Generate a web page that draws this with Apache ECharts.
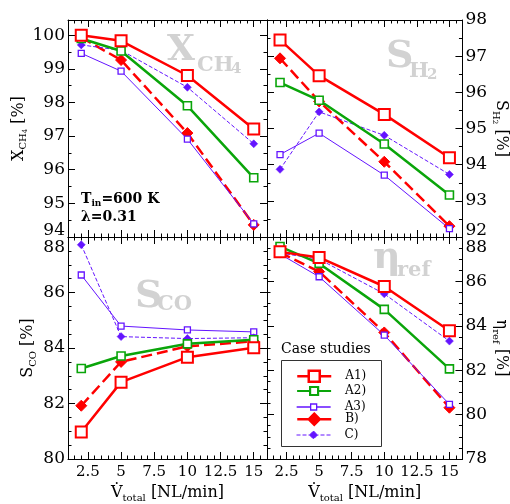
<!DOCTYPE html>
<html><head><meta charset="utf-8">
<script src="https://cdn.jsdelivr.net/npm/echarts@6/dist/echarts.min.js"></script>
<style>html,body{margin:0;padding:0;background:#fff}#c{width:510px;height:504px}</style>
</head><body><div id="c"></div>
<script>
// ---------------- data ----------------
const flows = [2, 5, 10, 15];               // V_total [NL/min]
const xTickVals = [2.5, 5, 7.5, 10, 12.5, 15];
const caseNames = ['A1)', 'A2)', 'A3)', 'B)', 'C)'];

// X_CH4 [%]
const xch4_A1 = [100.0, 99.83, 98.80, 97.21];
const xch4_A2 = [99.90, 99.53, 97.90, 95.76];
const xch4_A3 = [99.46, 98.93, 96.91, 94.39];
const xch4_B  = [99.93, 99.26, 97.09, 94.36];
const xch4_C  = [99.71, 99.55, 98.45, 96.77];
// S_H2 [%]
const sh2_A1 = [97.45, 96.46, 95.39, 94.19];
const sh2_A2 = [96.27, 95.78, 94.57, 93.16];
const sh2_A3 = [94.28, 94.87, 93.71, 92.23];
const sh2_B  = [96.94, 95.75, 94.08, 92.30];
const sh2_C  = [93.87, 95.46, 94.81, 93.73];
// S_CO [%]
const sco_A1 = [80.97, 82.77, 83.67, 84.01];
const sco_A2 = [83.26, 83.71, 84.15, 84.30];
const sco_A3 = [86.63, 84.79, 84.65, 84.58];
const sco_B  = [81.92, 83.50, 84.06, 84.24];
const sco_C  = [87.72, 84.41, 84.34, 84.37];
// eta_ref [%]
const eta_A1 = [87.33, 87.08, 85.77, 83.78];
const eta_A2 = [87.57, 86.81, 84.74, 82.06];
const eta_A3 = [87.23, 86.21, 83.58, 80.46];
const eta_B  = [87.30, 86.44, 83.70, 80.31];
const eta_C  = [87.28, 87.00, 85.44, 83.31];

// y tick labels
const yTicksXch4 = [94, 95, 96, 97, 98, 99, 100];
const yTicksSh2  = [92, 93, 94, 95, 96, 97, 98];
const yTicksSco  = [80, 82, 84, 86, 88];
const yTicksEta  = [78, 80, 82, 84, 86, 88];

// ---------------- styling ----------------
const SERIF = 'DejaVu Serif';
const RED = '#ff0000', GREEN = '#0aa50a', PURPLE = '#6414ff';

const panels = [
  {grid:{left:68, top:20, width:199, height:217}, side:'left', min:94, max:100.45, ticks:yTicksXch4,
   name:'{m|X}{s|CH}{t|4}{m| [%]}', gap:39, low:94, xLabels:false,
   sets:{A1:xch4_A1, A2:xch4_A2, A3:xch4_A3, B:xch4_B, C:xch4_C}},
  {grid:{left:267, top:20, width:198, height:217}, side:'right', min:92, max:98, ticks:yTicksSh2,
   name:'{m|S}{s|H}{t|2}{m| [%]}', gap:27, low:92, xLabels:false,
   sets:{A1:sh2_A1, A2:sh2_A2, A3:sh2_A3, B:sh2_B, C:sh2_C}},
  {grid:{left:68, top:237, width:199, height:225}, side:'left', min:80, max:88, ticks:yTicksSco,
   name:'{m|S}{s|CO}{m| [%]}', gap:30, high:88, xLabels:true,
   sets:{A1:sco_A1, A2:sco_A2, A3:sco_A3, B:sco_B, C:sco_C}},
  {grid:{left:267, top:237, width:198, height:225}, side:'right', min:78, max:88, ticks:yTicksEta,
   name:'{m|η}{s|ref}{m| [%]}', gap:27, high:88, xLabels:true,
   sets:{A1:eta_A1, A2:eta_A2, A3:eta_A3, B:eta_B, C:eta_C}}
];

const nameRich = {
  m:{fontFamily:SERIF, fontSize:16, color:'#000', lineHeight:20},
  s:{fontFamily:SERIF, fontSize:10, color:'#000', lineHeight:10, verticalAlign:'bottom'},
  t:{fontFamily:SERIF, fontSize:7, color:'#000', lineHeight:8, verticalAlign:'bottom'}
};
const axLine = {show:true, onZero:false, lineStyle:{color:'#000', width:1}};
const tickStyle = {color:'#000', width:1};

const xAxes = [], yAxes = [], grids = [];
panels.forEach((p, gi) => {
  grids.push(Object.assign({containLabel:false}, p.grid));
  const xb = {gridIndex:gi, type:'value', min:1, max:16, interval:0.5, splitLine:{show:false}, axisLine:axLine};
  xAxes.push(Object.assign({}, xb, {position:'bottom',
    axisTick:{show:true, inside:true, length:7, customValues:xTickVals, lineStyle:tickStyle},
    axisLabel:{show:p.xLabels, customValues:xTickVals, formatter:v => String(v),
      fontFamily:SERIF, fontSize:15, color:'#000', margin:6},
    name: p.xLabels ? '{m|V\u0307}{s|total}{m| [NL/min]}' : '', nameLocation:'middle', nameGap:24,
    nameTextStyle:{rich:nameRich}}));
  xAxes.push(Object.assign({}, xb, {position:'bottom', axisLine:{show:false},
    axisTick:{show:true, inside:true, length:3.5, lineStyle:tickStyle}, axisLabel:{show:false}}));
  xAxes.push(Object.assign({}, xb, {position:'top',
    axisTick:{show:true, inside:true, length:7, customValues:xTickVals, lineStyle:tickStyle}, axisLabel:{show:false}}));
  xAxes.push(Object.assign({}, xb, {position:'top', axisLine:{show:false},
    axisTick:{show:true, inside:true, length:3.5, lineStyle:tickStyle}, axisLabel:{show:false}}));

  const other = p.side === 'left' ? 'right' : 'left';
  const yb = {gridIndex:gi, type:'value', min:p.min, max:p.max, interval:0.5, splitLine:{show:false}, axisLine:axLine};
  yAxes.push(Object.assign({}, yb, {position:p.side,
    axisTick:{show:true, inside:true, length:7, customValues:p.ticks, lineStyle:tickStyle},
    axisLabel:{show:true, customValues:p.ticks, margin:3, fontFamily:SERIF, fontSize:17, color:'#000',
      formatter: v => (v === p.low ? '{up|' + v + '}' : v === p.high ? '{dn|' + v + '}' : String(v)),
      rich:{up:{fontFamily:SERIF, fontSize:17, color:'#000', padding:[0,0,13,0]},
            dn:{fontFamily:SERIF, fontSize:17, color:'#000', padding:[22,0,0,0]}}},
    name:p.name, nameLocation:'middle', nameGap:p.gap, nameRotate: p.side === 'left' ? 90 : -90,
    nameTextStyle:{rich:nameRich}}));
  yAxes.push(Object.assign({}, yb, {position:p.side, axisLine:{show:false},
    axisTick:{show:true, inside:true, length:3.5, lineStyle:tickStyle}, axisLabel:{show:false}}));
  yAxes.push(Object.assign({}, yb, {position:other,
    axisTick:{show:true, inside:true, length:7, customValues:p.ticks, lineStyle:tickStyle}, axisLabel:{show:false}}));
  yAxes.push(Object.assign({}, yb, {position:other, axisLine:{show:false},
    axisTick:{show:true, inside:true, length:3.5, lineStyle:tickStyle}, axisLabel:{show:false}}));
});

const styles = {
  A1:{name:'A1)', symbol:'rect', symbolSize:11, itemStyle:{color:'#fff', borderColor:RED, borderWidth:2},
      lineStyle:{color:RED, width:2.5, type:'solid'},
      legend:{h:11, icon:'path://M0,5.5H11.5M11.5,0H22.5V11H11.5ZM22.5,5.5H34',
              itemStyle:{color:'#fff', borderColor:RED, borderWidth:2.5}}},
  A2:{name:'A2)', symbol:'rect', symbolSize:8, itemStyle:{color:'#fff', borderColor:GREEN, borderWidth:1.6},
      lineStyle:{color:GREEN, width:2.5, type:'solid'},
      legend:{h:8, icon:'path://M0,4H13M13,0H21V8H13ZM21,4H34',
              itemStyle:{color:'#fff', borderColor:GREEN, borderWidth:2.2}}},
  A3:{name:'A3)', symbol:'rect', symbolSize:6, itemStyle:{color:'#fff', borderColor:PURPLE, borderWidth:1.3},
      lineStyle:{color:PURPLE, width:1, type:'solid'},
      legend:{h:6, icon:'path://M0,3H14M14,0H20V6H14ZM20,3H34',
              itemStyle:{color:'#fff', borderColor:PURPLE, borderWidth:1.3}}},
  B:{name:'B)', symbol:'diamond', symbolSize:11, itemStyle:{color:RED, borderColor:RED, borderWidth:1},
      lineStyle:{color:RED, width:2.5, type:[11, 5]},
      legend:{h:11, icon:'path://M0,5.5H34M17,0L22.5,5.5L17,11L11.5,5.5Z',
              itemStyle:{color:RED, borderColor:RED, borderWidth:2.5}}},
  C:{name:'C)', symbol:'diamond', symbolSize:8, itemStyle:{color:PURPLE, borderColor:PURPLE, borderWidth:0.5},
      lineStyle:{color:PURPLE, width:1, type:[4, 2]},
      legend:{h:8, icon:'path://M0,4H34M17,0L21,4L17,8L13,4Z',
              itemStyle:{color:PURPLE, borderColor:PURPLE, borderWidth:1, borderType:[4, 2]}}}
};
const drawOrder = ['B', 'A3', 'C', 'A2', 'A1'];
const series = [];
panels.forEach((p, gi) => {
  drawOrder.forEach(k => {
    const st = styles[k];
    series.push({
      type:'line', name:st.name, xAxisIndex:gi*4, yAxisIndex:gi*4,
      data: flows.map((f, i) => [f, p.sets[k][i]]),
      symbol:st.symbol, symbolSize:st.symbolSize, showSymbol:true,
      itemStyle:st.itemStyle, lineStyle:st.lineStyle, emphasis:{disabled:true}, silent:true
    });
  });
});

// one legend row per case (so each row keeps its own marker size)
const legendKeys = ['A1', 'A2', 'A3', 'B', 'C'];
const legendRowY = [375, 389, 404, 418, 433];
const legends = legendKeys.map((k, i) => {
  const lg = styles[k].legend;
  return {show:true, orient:'vertical', left:296, top:legendRowY[i] - lg.h / 2,
    data:[{name:styles[k].name, icon:lg.icon, itemStyle:lg.itemStyle}],
    padding:0, itemWidth:34, itemHeight:lg.h, symbolKeepAspect:true, selectedMode:false,
    textStyle:{fontFamily:SERIF, fontSize:12, color:'#000', padding:[0,0,0,9]}};
});

const GRAY = '#d2d2d2';
function txt(x, y, text, font, fill, align) {
  return {type:'text', x:x, y:y, silent:true,
    style:{text:text, font:font, fill:fill || '#000', align:align || 'left', verticalAlign:'middle'}};
}
const graphic = [
  txt(167, 51, 'X', 'bold 36px "DejaVu Serif"', GRAY),
  txt(197, 66, 'CH', 'bold 21px "DejaVu Serif"', GRAY),
  txt(231, 69, '4', 'bold 15px "DejaVu Serif"', GRAY),
  txt(386, 57, 'S', 'bold 38px "DejaVu Serif"', GRAY),
  txt(409, 72, 'H', 'bold 21px "DejaVu Serif"', GRAY),
  txt(427, 75, '2', 'bold 15px "DejaVu Serif"', GRAY),
  txt(135, 297, 'S', 'bold 38px "DejaVu Serif"', GRAY),
  txt(157, 305, 'CO', 'bold 21px "DejaVu Serif"', GRAY),
  txt(373, 258, 'η', 'bold 38px "DejaVu Serif"', GRAY),
  txt(397, 271, 'ref', 'bold 21px "DejaVu Serif"', GRAY),
  {type:'text', x:81, y:199, silent:true,
   style:{text:'{a|T}{b|in}{a|=600 K}', verticalAlign:'middle',
     rich:{a:{font:'bold 14px "DejaVu Serif"', fill:'#000', lineHeight:18},
           b:{font:'bold 9px "DejaVu Serif"', fill:'#000', lineHeight:10, verticalAlign:'bottom'}}}},
  txt(81, 217, 'λ=0.31', 'bold 14px "DejaVu Serif"', '#000'),
  txt(281, 349, 'Case studies', '14px "DejaVu Serif"', '#000'),
  {type:'rect', shape:{x:281.5, y:360.5, width:100, height:86}, z:-1, silent:true,
   style:{fill:'#fff', stroke:'#333', lineWidth:1}}
];

const chart = echarts.init(document.getElementById('c'), null, {renderer:'canvas'});
chart.setOption({
  animation:false,
  backgroundColor:'#fff',
  grid:grids, xAxis:xAxes, yAxis:yAxes, series:series, graphic:graphic, legend:legends
});
</script></body></html>
